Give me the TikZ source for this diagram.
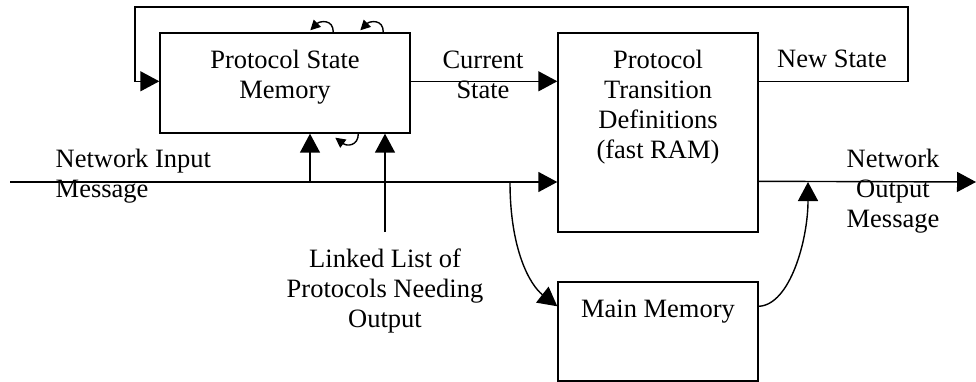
\documentclass[tikz,border=0pt]{standalone}
\usepackage{fontspec}
\setmainfont{Liberation Serif}
\usetikzlibrary{arrows.meta}
\begin{document}
\begin{tikzpicture}[x=1pt,y=-1pt,line width=1.4pt,
  every node/.style={font=\fontsize{26.5}{30}\selectfont},
  block/.style={draw,minimum width=200pt,inner sep=0pt},
  txt/.style={align=center,anchor=base,inner sep=0pt},
  arr/.style={-{Triangle[length=19pt,width=20pt]}},
  loop/.style={-{Triangle[length=10pt,width=10pt]}}]
\useasboundingbox (0,0) rectangle (976,382);

% boxes
\node[block,minimum width=250pt,minimum height=100pt] (psm) at (285,83) {};
\node[block,minimum height=199pt] (trans) at (658,132.5) {};
\node[block,minimum height=99pt] (mm) at (658,331.5) {};

% box captions (base anchor sits on the last line)
\node[txt] (psmtext) at (285,99) {Protocol State\\Memory};
\node[txt] (transtext) at (658,159) {Protocol\\Transition\\Definitions\\(fast RAM)};
\node[txt] (mmtext) at (658,317) {Main Memory};

% free labels
\node[txt,anchor=base west,align=left] (inlabel) at (55,197) {Network Input\\Message};
\node[txt] (curlabel) at (483,99) {Current\\State};
\node[txt] (newlabel) at (832,68) {New State};
\node[txt] (outlabel) at (893,227) {Network\\Output\\Message};
\node[txt] (lllabel) at (385,327) {Linked List of\\Protocols Needing\\Output};

% junctions and free ends
\coordinate (inL) at (10,182);
\coordinate (j1) at (310,182);
\coordinate (j2) at (510,182);
\coordinate (j3) at (808,182);
\coordinate (outR) at (976,182);
\coordinate (ll) at (385,232);
\coordinate (fbR) at (908,7);
\coordinate (fbL) at (135,7);

% new state fed back into the state memory
\draw[arr] ([yshift=-49pt]trans.north east) -| (fbR) -- (fbL) |- ([yshift=-49pt]psm.north west);
% current state
\draw[arr] ([yshift=-49pt]psm.north east) -- ([yshift=-49pt]trans.north west);
% network input
\draw[arr] (inL) -- (inL -| trans.west);
\draw[arr] (j1) -- (j1 |- psm.south);
\draw[arr] (ll) -- (ll |- psm.south);
% network output
\draw[arr] ([yshift=-149pt]trans.north east) -- (outR);
% through main memory
\draw[arr] (j2) .. controls (510,250) and (530,285) .. ([yshift=-25pt]mm.north west);
\draw[arr] ([yshift=-25pt]mm.north east) .. controls (790,305) and (808,240) .. (j3);

% small loops on the state memory
\draw[loop] ([xshift=174pt]psm.north west) .. controls +(0,-14) and +(9,-9) .. ([shift={(151,-2)}]psm.north west);
\draw[loop] ([xshift=224pt]psm.north west) .. controls +(0,-14) and +(9,-9) .. ([shift={(201,-2)}]psm.north west);
\draw[loop] ([xshift=199pt]psm.south west) .. controls +(0,12) and +(12,9) .. ([shift={(176,4)}]psm.south west);
\end{tikzpicture}
\end{document}
